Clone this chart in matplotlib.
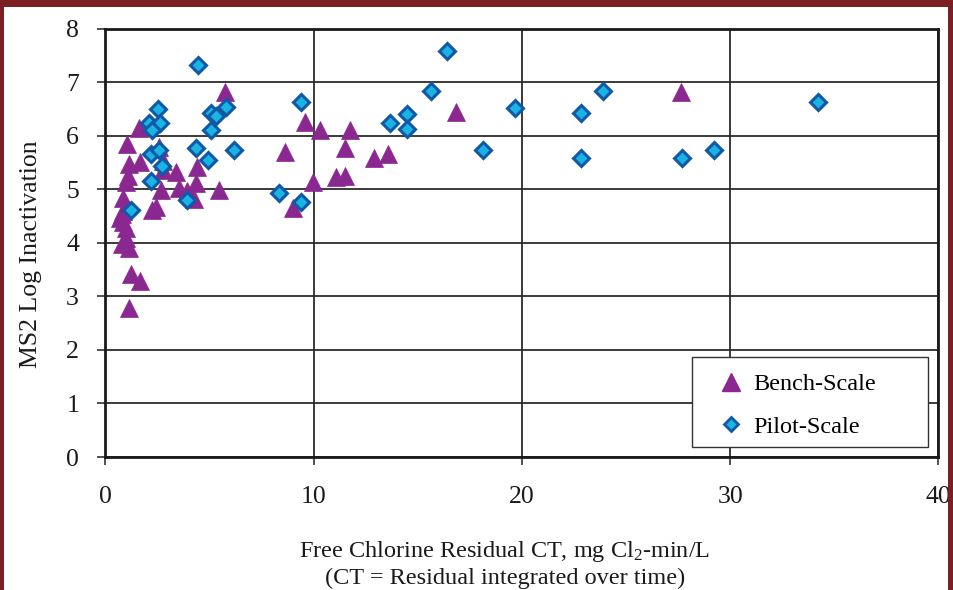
import matplotlib
matplotlib.use("Agg")
import matplotlib.pyplot as plt
from matplotlib.patches import Rectangle
from matplotlib.lines import Line2D

plt.rcParams['font.family'] = ['Liberation Serif', 'DejaVu Serif']
plt.rcParams['mathtext.fontset'] = 'custom'
plt.rcParams['mathtext.rm'] = 'Liberation Serif'
plt.rcParams['mathtext.it'] = 'Liberation Serif:italic'

# ---- data ----
bench_x = [0.78, 1.00, 1.14, 0.97, 0.86, 0.70, 0.78, 0.86, 0.86, 0.98, 1.06, 1.14,
           1.65, 1.05, 1.61, 1.22, 1.64, 1.14, 2.21, 2.42, 2.66, 2.58, 2.77, 2.74,
           3.37, 3.52, 3.90, 4.34, 4.26, 4.40, 5.47, 5.76, 8.64, 9.00, 9.60, 9.98,
           10.29, 11.05, 11.52, 11.50, 11.73, 12.88, 13.55, 16.81, 27.65]
bench_y = [3.98, 4.08, 3.90, 4.28, 4.38, 4.47, 4.53, 4.60, 4.84, 5.13, 5.25, 5.47,
           5.51, 5.84, 6.14, 3.42, 3.29, 2.78, 4.62, 4.66, 4.98, 5.78, 5.53, 5.35,
           5.33, 5.02, 4.97, 5.12, 4.82, 5.42, 4.99, 6.82, 5.69, 4.65, 6.26, 5.14,
           6.11, 5.22, 5.25, 5.77, 6.11, 5.59, 5.66, 6.45, 6.82]

pilot_x = [4.44, 16.40, 9.41, 15.64, 23.90, 19.67, 34.20, 2.50, 5.78, 5.06, 5.30,
           5.09, 2.10, 2.61, 2.23, 2.18, 2.58, 2.70, 2.20, 1.22, 3.92, 4.33, 4.90,
           6.15, 8.34, 9.41, 14.50, 13.65, 14.50, 18.14, 22.85, 22.85, 27.70, 29.20]
pilot_y = [7.32, 7.58, 6.63, 6.83, 6.83, 6.52, 6.63, 6.49, 6.53, 6.42, 6.36,
           6.11, 6.23, 6.23, 6.10, 5.66, 5.74, 5.43, 5.15, 4.62, 4.80, 5.77, 5.55,
           5.74, 4.92, 4.77, 6.41, 6.23, 6.12, 5.74, 6.42, 5.59, 5.58, 5.74]

series_labels = ["Bench-Scale", "Pilot-Scale"]
x_ticks = [0, 10, 20, 30, 40]
y_ticks = [0, 1, 2, 3, 4, 5, 6, 7, 8]
x_label = "Free Chlorine Residual CT, mg Cl$_2$-min/L"
x_label2 = "(CT = Residual integrated over time)"
y_label = "MS2 Log Inactivation"

# ---- styles ----
W, H = 954, 590
BENCH_C = '#8B2790'
PILOT_FACE = '#1AB4E4'
PILOT_EDGE = '#0F59A6'
RED = '#7A1F24'
GRID_C = '#2b2b2b'

fig = plt.figure(figsize=(W / 100, H / 100), dpi=100)
fig.patch.set_facecolor('white')

ax = fig.add_axes([105.5 / W, 1 - 457 / H, (938.5 - 105.5) / W, (457 - 28.5) / H])
ax.set_xlim(0, 40)
ax.set_ylim(0, 8)
ax.set_xticks(x_ticks)
ax.set_yticks(y_ticks)
ax.grid(True, color=GRID_C, lw=1.3, zorder=0)
ax.set_axisbelow(True)
for s in ax.spines.values():
    s.set_linewidth(2.0)
    s.set_color('#1a1a1a')
ax.tick_params(axis='both', direction='out', length=6, width=1.2, color='#333333',
               labelsize=18.5, labelcolor='#1a1a1a')
ax.tick_params(axis='x', pad=15)
ax.tick_params(axis='y', pad=13)

ax.plot(bench_x, bench_y, linestyle='none', marker='^', markersize=13,
        color=BENCH_C, markeredgecolor=BENCH_C, markeredgewidth=0.5,
        label=series_labels[0], zorder=3)
ax.plot(pilot_x, pilot_y, linestyle='none', marker='D', markersize=8.0,
        markerfacecolor=PILOT_FACE, markeredgecolor=PILOT_EDGE, markeredgewidth=2.2,
        label=series_labels[1], zorder=4)

# legend box
rect = Rectangle((692 / W, 1 - 447 / H), (928 - 692) / W, (447 - 357) / H,
                 transform=fig.transFigure, facecolor='white', edgecolor='#333333',
                 lw=1.0, zorder=6)
fig.patches.append(rect)
handles = [
    Line2D([], [], linestyle='none', marker='^', markersize=13, color=BENCH_C),
    Line2D([], [], linestyle='none', marker='D', markersize=6.8,
           markerfacecolor=PILOT_FACE, markeredgecolor=PILOT_EDGE, markeredgewidth=2.0),
]
leg = fig.legend(handles, series_labels, loc='upper left',
                 bbox_to_anchor=(719 / W, 1 - 373 / H), frameon=False,
                 fontsize=17.5, handlelength=1.0, handletextpad=0.4,
                 labelspacing=0.85, borderpad=0, borderaxespad=0)
leg.set_zorder(7)

# axis labels
fig.text(505 / W, 1 - 551 / H, x_label, ha='center', va='center', fontsize=17.5,
         color='#1a1a1a')
fig.text(505 / W, 1 - 578 / H, x_label2, ha='center', va='center', fontsize=17.5,
         color='#1a1a1a')
fig.text(31 / W, 1 - 254 / H, y_label, ha='center', va='center', rotation=90,
         fontsize=18.5, color='#1a1a1a')

# dark red frame
fig.patches.append(Rectangle((0, 1 - 7 / H), 1, 7 / H, transform=fig.transFigure,
                             facecolor=RED, edgecolor='none', zorder=10))
fig.patches.append(Rectangle((0, 0), 4 / W, 1, transform=fig.transFigure,
                             facecolor=RED, edgecolor='none', zorder=10))
fig.patches.append(Rectangle((1 - 6 / W, 0), 6 / W, 1, transform=fig.transFigure,
                             facecolor=RED, edgecolor='none', zorder=10))

fig.savefig('out.png', dpi=100, facecolor='white')
